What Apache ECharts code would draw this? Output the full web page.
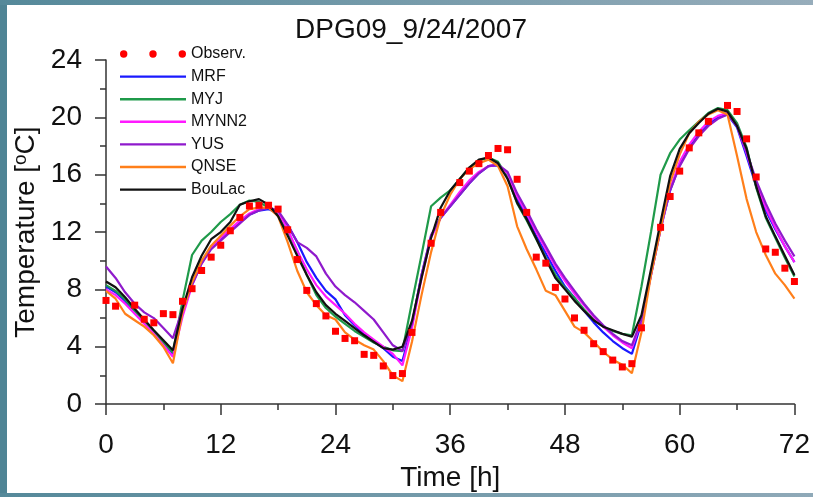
<!DOCTYPE html>
<html>
<head>
<meta charset="utf-8">
<script src="https://cdn.jsdelivr.net/npm/echarts@6/dist/echarts.min.js"></script>
<style>
html,body{margin:0;padding:0;background:#fff;}
#chart{width:813px;height:497px;}
</style>
</head>
<body>
<div id="chart"></div>
<script>
const titleText = 'DPG09_9/24/2007';
const hours = [0,1,2,3,4,5,6,7,8,9,10,11,12,13,14,15,16,17,18,19,20,21,22,23,24,25,26,27,28,29,30,31,32,33,34,35,36,37,38,39,40,41,42,43,44,45,46,47,48,49,50,51,52,53,54,55,56,57,58,59,60,61,62,63,64,65,66,67,68,69,70,71,72];
const xTicks = [0,12,24,36,48,60,72];
const yTicks = [0,4,8,12,16,20,24];

const observ = [7.23,6.83,null,6.90,5.92,5.67,6.31,6.24,7.17,8.05,9.32,10.25,11.08,12.09,13.02,13.82,13.87,13.87,13.60,12.16,10.08,7.93,7.01,6.15,5.08,
  4.58,4.42,3.47,3.40,2.66,1.99,2.13,5.0,null,11.22,13.37,null,15.45,16.25,16.77,17.34,17.83,17.74,15.68,13.37,10.25,9.83,8.14,7.33,6.01,
  5.15,4.21,3.66,3.07,2.59,2.82,5.32,null,12.33,14.48,16.25,17.87,18.92,19.72,null,20.83,20.41,18.50,15.84,10.82,10.59,9.48,8.55];

const mrf = [8.2,7.8,7.2,6.5,5.8,5.1,4.3,3.5,
  6.3,8.4,9.9,10.9,11.5,12.1,12.7,13.2,13.5,
  13.6,13.3,12.5,11.3,9.9,8.8,7.9,7.3,
  6.2,5.5,4.9,4.35,3.9,3.3,3.0,
  5.5,9.0,11.7,13.0,13.8,14.6,15.4,16.1,16.6,
  16.65,15.9,14.3,13.1,11.7,10.5,9.3,8.2,7.4,
  6.5,5.7,5.0,4.4,3.9,3.5,
  5.7,9.0,12.2,14.9,16.7,17.9,18.8,19.5,20.0,20.2,
  19.3,17.3,15.2,13.5,12.2,11.0,9.9];

const myj = [8.3,7.9,7.3,6.5,5.8,5.0,4.3,3.6,
  7.2,10.4,11.4,12.0,12.7,13.25,13.9,14.2,14.1,
  13.7,13.25,12.0,10.7,9.0,7.6,6.7,6.1,
  5.6,5.1,4.7,4.3,4.0,3.75,3.7,
  7.1,10.4,13.8,14.4,14.9,15.7,16.5,17.0,17.2,
  16.9,15.8,14.0,12.8,11.5,10.2,9.0,8.1,7.4,
  6.6,5.9,5.4,5.1,4.9,4.8,
  8.2,12.0,16.0,17.5,18.45,19.1,19.7,20.3,20.65,20.5,
  19.6,17.9,15.1,13.0,11.6,10.2,8.9];

const mynn2 = [8.0,7.6,7.0,6.3,5.6,4.9,4.1,3.3,
  6.1,8.3,9.8,10.9,11.6,12.2,12.8,13.3,13.6,
  13.7,13.4,12.2,10.7,9.4,8.3,7.5,6.9,
  6.3,5.6,5.0,4.5,4.0,3.5,2.7,
  5.3,8.8,11.6,13.0,13.9,14.8,15.6,16.2,16.6,
  16.7,16.1,14.5,13.3,12.0,10.8,9.6,8.6,7.7,
  6.9,6.1,5.4,4.8,4.3,3.9,
  5.8,9.0,12.2,15.0,16.9,18.1,19.0,19.7,20.1,20.3,
  19.4,17.5,15.4,13.7,12.3,11.0,9.9];

const yus = [9.6,8.8,7.8,7.0,6.4,6.0,5.3,4.6,
  6.6,8.3,9.8,10.8,11.4,12.0,12.6,13.2,13.5,
  13.7,13.5,12.5,11.3,10.9,10.3,9.1,8.2,
  7.6,7.1,6.5,5.9,5.0,4.1,3.7,
  5.6,9.0,11.8,13.0,13.8,14.6,15.4,16.1,16.6,
  16.7,16.2,14.7,13.5,12.2,11.0,9.8,8.8,7.9,
  7.0,6.2,5.5,4.9,4.4,4.1,
  5.9,9.1,12.3,14.9,16.6,17.8,18.7,19.4,19.9,20.2,
  19.4,17.6,15.6,14.0,12.6,11.4,10.3];

const qnse = [7.9,7.35,6.3,5.85,5.4,4.8,4.0,2.85,
  6.4,8.5,10.0,11.05,11.75,12.45,13.1,13.6,13.7,
  13.7,13.1,11.3,9.3,7.8,6.9,6.2,5.9,
  5.0,4.5,4.1,3.8,3.0,2.0,1.6,
  4.35,7.6,10.6,13.1,14.6,15.7,16.4,16.8,17.05,
  16.6,15.2,12.4,10.8,9.4,7.9,7.6,6.5,5.4,
  5.0,4.35,3.65,3.1,2.75,2.15,
  5.0,9.0,12.2,15.45,17.4,18.9,19.7,20.2,20.5,20.2,
  17.3,14.3,12.0,10.4,9.1,8.3,7.35];

const boulac = [8.55,8.15,7.45,6.65,5.9,5.15,4.45,3.75,
  6.65,8.85,10.35,11.5,12.0,12.7,13.9,14.15,14.3,
  13.9,13.1,11.75,10.35,9.0,7.8,6.9,6.3,
  5.8,5.3,4.8,4.35,3.9,3.8,4.0,
  5.8,8.8,11.6,13.7,14.9,15.7,16.5,17.05,17.2,
  16.8,15.7,14.05,12.9,11.55,10.1,8.8,8.0,7.2,
  6.5,5.85,5.4,5.15,4.9,4.7,
  6.2,9.4,12.7,15.9,17.8,18.9,19.6,20.25,20.6,20.4,
  19.4,17.8,15.2,13.1,11.7,10.35,9.0];

const seriesNames = ['MRF','MYJ','MYNN2','YUS','QNSE','BouLac'];
const seriesValues = [mrf, myj, mynn2, yus, qnse, boulac];
const seriesColors = ['#1a1aff','#1f9a4a','#ff1aff','#8f1acc','#ff7f1a','#111111'];

function pairs(vals){ return hours.map((h,i)=>[h, vals[i]]); }

const FONT = 'Liberation Sans, Arial, sans-serif';
const LINE_ICON = 'path://M0,0L66,0L66,2.4L0,2.4Z';
const DOTS_ICON = 'path://M0,3.7A3.7,3.7 0 1 1 7.4,3.7A3.7,3.7 0 1 1 0,3.7Z M29.3,3.7A3.7,3.7 0 1 1 36.7,3.7A3.7,3.7 0 1 1 29.3,3.7Z M58.6,3.7A3.7,3.7 0 1 1 66,3.7A3.7,3.7 0 1 1 58.6,3.7Z';
const chart = echarts.init(document.getElementById('chart'), null, {renderer:'canvas'});

const lineSeries = seriesNames.map((n,i)=>({
  name:n, type:'line', data:pairs(seriesValues[i]), showSymbol:false, symbol:'none',
  lineStyle:{color:seriesColors[i], width:2.2}, itemStyle:{color:seriesColors[i]},
  animation:false, z:2+i
}));

const option = {
  animation:false,
  backgroundColor:'#ffffff',
  textStyle:{fontFamily:FONT},
  title:{text:titleText, left:290, top:11, textStyle:{fontFamily:FONT, fontSize:28, fontWeight:'normal', color:'#111'}},
  graphic:[
    {type:'rect', left:0, top:0, shape:{width:7, height:497}, style:{fill:'#4f8495'}, silent:true},
    {type:'rect', left:0, top:0, shape:{width:813, height:5}, style:{fill:new echarts.graphic.LinearGradient(0,0,1,0,[{offset:0,color:'#55899a'},{offset:1,color:'#97adbb'}])}, silent:true},
    {type:'rect', left:0, top:493, shape:{width:813, height:4}, style:{fill:new echarts.graphic.LinearGradient(0,0,1,0,[{offset:0,color:'#55899a'},{offset:1,color:'#8fa9b8'}])}, silent:true}
  ],
  legend:{
    orient:'vertical', left:120, top:46, padding:0, itemGap:6.6, itemWidth:66, itemHeight:8,
    textStyle:{fontFamily:FONT, fontSize:16, color:'#111', lineHeight:16},
    data:[
      {name:'Observ.', icon:DOTS_ICON},
      {name:'MRF', icon:LINE_ICON},
      {name:'MYJ', icon:LINE_ICON},
      {name:'MYNN2', icon:LINE_ICON},
      {name:'YUS', icon:LINE_ICON},
      {name:'QNSE', icon:LINE_ICON},
      {name:'BouLac', icon:LINE_ICON}
    ]
  },
  grid:{left:106, top:60, right:14, bottom:91, containLabel:false},
  xAxis:{
    type:'value', min:0, max:72, interval:12,
    name:'Time [h]', nameLocation:'middle', nameGap:58,
    nameTextStyle:{fontFamily:FONT, fontSize:28, color:'#111'},
    axisLine:{show:true, lineStyle:{color:'#333', width:1.5}},
    axisTick:{show:true, inside:false, length:11, lineStyle:{color:'#333', width:1.5}},
    minorTick:{show:true, splitNumber:2, length:6, lineStyle:{color:'#333', width:1.5}},
    splitLine:{show:false},
    axisLabel:{fontFamily:FONT, fontSize:28, color:'#111', margin:27,
      formatter:(v)=> xTicks.indexOf(v)>=0 ? String(v) : ''}
  },
  yAxis:{
    type:'value', min:0, max:24, interval:4,
    name:'Temperature [{sup|o}C]', nameLocation:'middle', nameGap:62, nameRotate:90,
    nameTextStyle:{fontFamily:FONT, fontSize:28, color:'#111',
      rich:{sup:{fontFamily:FONT, fontSize:19, color:'#111', verticalAlign:'top', padding:[0,0,10,0]}}},
    axisLine:{show:true, lineStyle:{color:'#333', width:1.5}},
    axisTick:{show:true, inside:false, length:11, lineStyle:{color:'#333', width:1.5}},
    minorTick:{show:true, splitNumber:2, length:6, lineStyle:{color:'#333', width:1.5}},
    splitLine:{show:false},
    axisLabel:{fontFamily:FONT, fontSize:28, color:'#111', margin:24,
      formatter:(v)=> yTicks.indexOf(v)>=0 ? String(v) : ''}
  },
  series: lineSeries.concat([{
    name:'Observ.', type:'scatter', data:pairs(observ).filter(p=>p[1]!==null),
    symbol:'rect', symbolSize:7, itemStyle:{color:'#ff0000', opacity:1}, z:20, animation:false
  }])
};
chart.setOption(option);
</script>
</body>
</html>
